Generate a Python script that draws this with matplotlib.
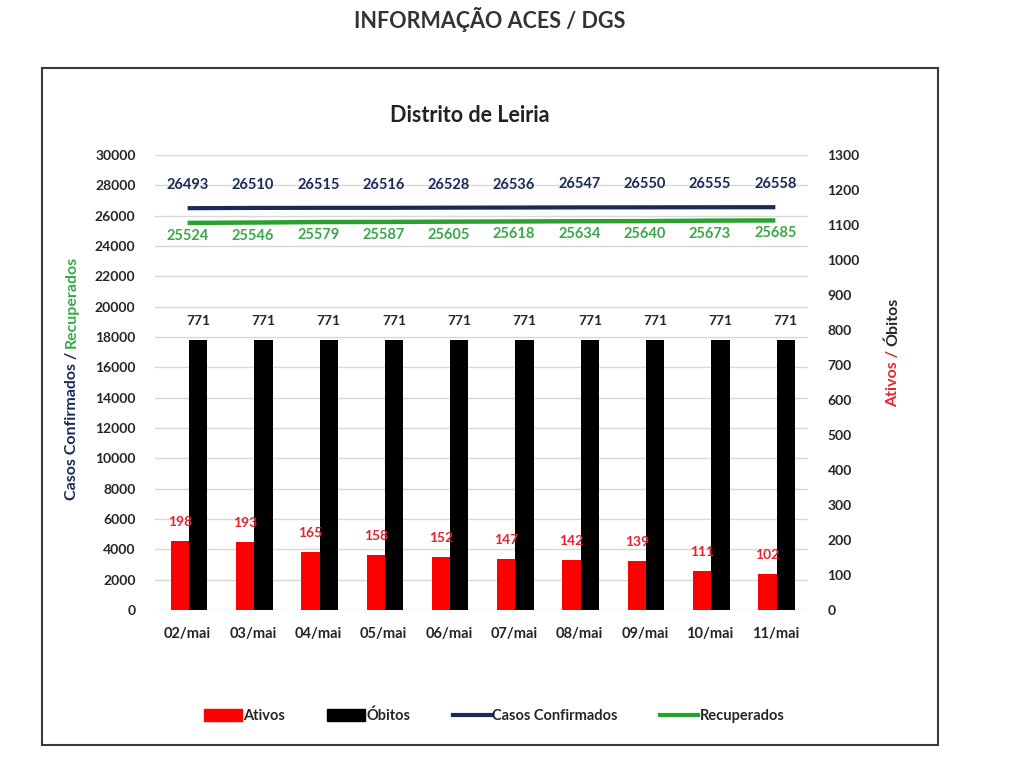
import matplotlib
matplotlib.use("Agg")
import matplotlib.pyplot as plt
from matplotlib.patches import Rectangle, Patch
from matplotlib.lines import Line2D
import numpy as np

plt.rcParams['font.family'] = ['Lato', 'DejaVu Sans']

dates = ["02/mai", "03/mai", "04/mai", "05/mai", "06/mai", "07/mai", "08/mai", "09/mai", "10/mai", "11/mai"]
casos = [26493, 26510, 26515, 26516, 26528, 26536, 26547, 26550, 26555, 26558]
recup = [25524, 25546, 25579, 25587, 25605, 25618, 25634, 25640, 25673, 25685]
ativos = [198, 193, 165, 158, 152, 147, 142, 139, 111, 102]
obitos = [771, 771, 771, 771, 771, 771, 771, 771, 771, 771]

NAVY = "#1c2a5a"
GREEN = "#2aa12f"
GREEN_T = "#3aa84a"
RED = "#ff0000"
RED_T = "#e4252f"
TXT = "#262626"

W, H = 1024, 777
fig = plt.figure(figsize=(W / 100, H / 100), dpi=100)

def fx(px):
    return px / W

def fy(py):
    return 1 - py / H

# frame
fig.patches.append(Rectangle((fx(42), fy(745)), fx(938) - fx(42), fy(68) - fy(745),
                             transform=fig.transFigure, fill=False, edgecolor="#3a3a3a", linewidth=1.5))

fig.text(fx(490), fy(20), "INFORMAÇÃO ACES / DGS", ha="center", va="center",
         fontsize=15.5, fontweight="bold", color="#333333")

ax = fig.add_axes([fx(155), fy(610), fx(808) - fx(155), fy(155) - fy(610)])
ax2 = ax.twinx()

x = np.arange(len(dates))
bw = 0.28

ax.set_zorder(ax2.get_zorder() + 1)
ax.patch.set_visible(False)

ax2.bar(x - bw / 2 + 0.02, ativos, width=bw, color=RED, zorder=2)
ax2.bar(x + bw / 2 + 0.02, obitos, width=bw, color="black", zorder=2)

ax.plot(x, casos, color=NAVY, linewidth=3, solid_capstyle="butt", zorder=3)
ax.plot(x, recup, color=GREEN, linewidth=3.2, solid_capstyle="butt", zorder=3)

ax.set_xlim(-0.5, len(dates) - 0.5)
ax.set_ylim(0, 30000)
ax.set_yticks(np.arange(0, 30001, 2000))
ax2.set_ylim(0, 1300)
ax2.set_yticks(np.arange(0, 1301, 100))

ax.grid(False)
ax2.grid(False)
for v in np.arange(0, 30001, 2000):
    ax2.axhline(v * 1300 / 30000, color="#d9d9d9", linewidth=1, zorder=0)

for a in (ax, ax2):
    for s in a.spines.values():
        s.set_visible(False)
    a.tick_params(length=0)

ax.set_xticks(x)
ax.set_xticklabels(dates, fontsize=10.5, fontweight="bold", color=TXT)
ax.tick_params(axis="x", pad=12)
ax.tick_params(axis="y", pad=14)
ax2.tick_params(axis="y", pad=14)
for lab in ax.get_yticklabels() + ax2.get_yticklabels():
    lab.set_fontsize(10)
    lab.set_fontweight("bold")
    lab.set_color(TXT)

# data labels
for i in range(len(dates)):
    ax.annotate(str(casos[i]), (x[i], casos[i]), xytext=(0, 23), textcoords="offset pixels",
                ha="center", va="center", fontsize=10.5, fontweight="bold", color=NAVY, zorder=5)
    ax.annotate(str(recup[i]), (x[i], recup[i]), xytext=(0, -13), textcoords="offset pixels",
                ha="center", va="center", fontsize=10.5, fontweight="bold", color=GREEN_T, zorder=5)
    ax2.annotate(str(ativos[i]), (x[i] - bw / 2 + 0.02, ativos[i]), xytext=(0, 19), textcoords="offset pixels",
                 ha="center", va="center", fontsize=10, fontweight="bold", color=RED_T)
    ax2.annotate(str(obitos[i]), (x[i] + bw / 2 + 0.02, obitos[i]), xytext=(0, 19), textcoords="offset pixels",
                 ha="center", va="center", fontsize=10, fontweight="bold", color=TXT)

fig.text(fx(470), fy(116), "Distrito de Leiria", ha="center", va="center",
         fontsize=15.5, fontweight="bold", color="#222222")

# axis labels (two-colour)
fig.canvas.draw()
r = fig.canvas.get_renderer()
t1 = fig.text(fx(72), fy(500), "Casos Confirmados / ", rotation=90, ha="center", va="bottom",
              fontsize=11.5, fontweight="bold", color=NAVY)
bb = t1.get_window_extent(r)
fig.text(fx(72), bb.y1 / fig.dpi / fig.get_figheight(), "Recuperados", rotation=90, ha="center", va="bottom",
         fontsize=11.5, fontweight="bold", color=GREEN_T)

t2 = fig.text(fx(893), fy(407), "Ativos / ", rotation=90, ha="center", va="bottom",
              fontsize=11.5, fontweight="bold", color=RED_T)
bb2 = t2.get_window_extent(r)
fig.text(fx(893), bb2.y1 / fig.dpi / fig.get_figheight(), "Óbitos", rotation=90, ha="center", va="bottom",
         fontsize=11.5, fontweight="bold", color=TXT)

handles = [Patch(facecolor=RED, edgecolor=RED), Patch(facecolor="black", edgecolor="black"),
           Line2D([], [], color=NAVY, linewidth=3), Line2D([], [], color=GREEN, linewidth=3)]
labels = ["Ativos", "Óbitos", "Casos Confirmados", "Recuperados"]
leg = fig.legend(handles, labels, loc="center", bbox_to_anchor=(fx(494), fy(716)), ncol=4,
                 frameon=False, handlelength=2.6, handleheight=0.9, handletextpad=0.1,
                 columnspacing=2.9, prop={"size": 10.5, "weight": "bold"})
for t in leg.get_texts():
    t.set_color(TXT)

fig.savefig("out.png", dpi=100, facecolor="white")
